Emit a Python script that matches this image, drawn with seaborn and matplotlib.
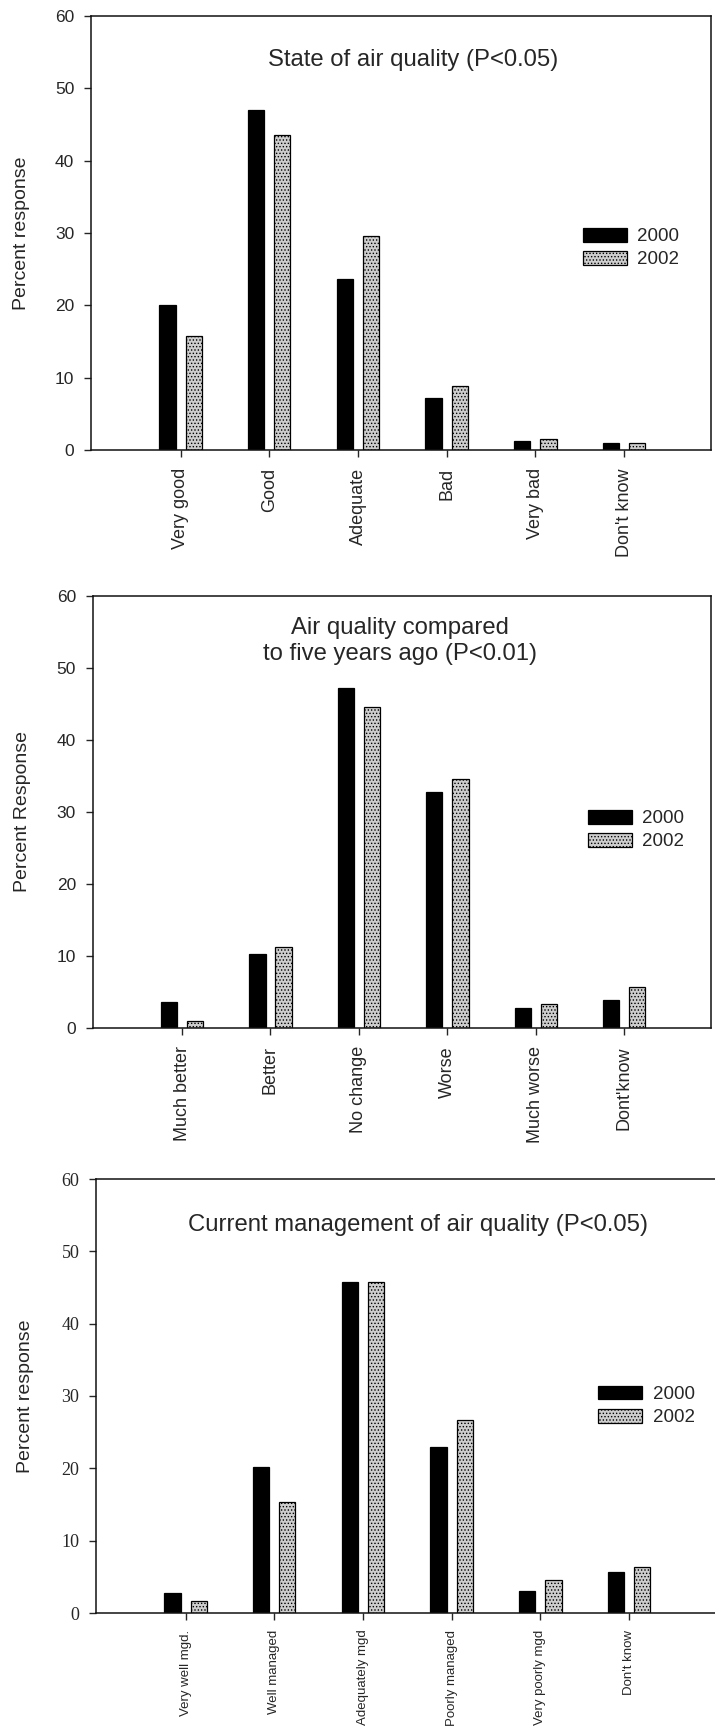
import matplotlib
matplotlib.use("Agg")
import matplotlib.pyplot as plt
from matplotlib.patches import Patch
from matplotlib import font_manager
import pandas as pd
import seaborn as sns

# ---- survey results (percent of respondents) ----
years = ["2000", "2002"]

state_categories = ["Very good", "Good", "Adequate", "Bad", "Very bad", "Don't know"]
state_2000 = [20.0, 47.0, 23.7, 7.2, 1.3, 1.0]
state_2002 = [15.8, 43.5, 29.6, 8.8, 1.5, 0.9]

trend_categories = ["Much better", "Better", "No change", "Worse", "Much worse", "Dont'know"]
trend_2000 = [3.6, 10.3, 47.2, 32.8, 2.8, 3.9]
trend_2002 = [1.0, 11.2, 44.6, 34.6, 3.4, 5.7]

mgmt_categories = ["Very well mgd.", "Well managed", "Adequately mgd",
                   "Poorly managed", "Very poorly mgd", "Don't know"]
mgmt_2000 = [2.8, 20.2, 45.8, 23.0, 3.0, 5.6]
mgmt_2002 = [1.6, 15.3, 45.8, 26.7, 4.6, 6.3]

y_ticks = [0, 10, 20, 30, 40, 50, 60]

titles = ["State of air quality (P<0.05)",
          "Air quality compared\nto five years ago (P<0.01)",
          "Current management of air quality (P<0.05)"]
ylabels = ["Percent response", "Percent Response", "Percent response"]

# ---- style ----
sns.set_style("white")
plt.rcParams["font.family"] = ["Liberation Sans", "DejaVu Sans"]
plt.rcParams["axes.linewidth"] = 1.0
plt.rcParams["hatch.linewidth"] = 0.6


def has_font(name):
    try:
        font_manager.findfont(name, fallback_to_default=False)
        return True
    except Exception:
        return False


NARROW = "Liberation Sans Narrow" if has_font("Liberation Sans Narrow") else "Liberation Sans"
NARROW_SIZE = 11 if NARROW == "Liberation Sans Narrow" else 9.5

BLACK = "#000000"
STIPPLE = "#cdcdcd"
HATCH = "....."
palette = {"2000": BLACK, "2002": STIPPLE}

fig = plt.figure(figsize=(7.15, 17.27), dpi=100)

# axes boxes [left, bottom, width, height] in figure fractions
boxes = [
    [91 / 715, 1 - 450 / 1727, 620 / 715, 434 / 1727],
    [92.7 / 715, 1 - 1028 / 1727, 618.3 / 715, 432 / 1727],
    [96 / 715, 1 - 1613 / 1727, 620 / 715, 434 / 1727],
]
title_pos = [(0.519, 0.899), (0.497, 0.896), (0.519, 0.894)]
legend_pos = [(0.7935, 0.465), (0.801, 0.458), (0.81, 0.477)]
ylabel_x = [-0.098, -0.100, -0.100]

panels = [
    (state_categories, state_2000, state_2002),
    (trend_categories, trend_2000, trend_2002),
    (mgmt_categories, mgmt_2000, mgmt_2002),
]

for i, (cats, v2000, v2002) in enumerate(panels):
    ax = fig.add_axes(boxes[i])
    df = pd.DataFrame({
        "category": cats + cats,
        "year": [years[0]] * len(cats) + [years[1]] * len(cats),
        "percent": v2000 + v2002,
    })
    sns.barplot(data=df, x="category", y="percent", hue="year",
                order=cats, hue_order=years, palette=palette,
                width=0.59, gap=0.38, saturation=1,
                edgecolor="black", linewidth=0.9, legend=False, ax=ax)
    for bar in ax.patches:
        if bar.get_facecolor()[0] > 0.5:
            bar.set_hatch(HATCH)

    ax.set_xlim(-1.01, 5.98)
    ax.set_ylim(0, 60)
    ax.set_yticks(y_ticks)
    for s in ax.spines.values():
        s.set_visible(True)
        s.set_color("#111111")
        s.set_linewidth(1.1)

    serif_ticks = (i == 2)
    ax.tick_params(axis="y", direction="out", length=5, width=1, pad=7,
                   left=True, labelsize=13 if serif_ticks else 12.5)
    ax.tick_params(axis="x", direction="out", length=5, width=1,
                   pad=8 if not serif_ticks else 7, bottom=True,
                   labelsize=NARROW_SIZE if serif_ticks else 13)
    ax.set_xticks(range(len(cats)))
    ax.set_xticklabels(cats, rotation=90, ha="center", va="top")
    if serif_ticks:
        for lab in ax.get_yticklabels():
            lab.set_fontfamily(["Liberation Serif", "DejaVu Serif"])
        for lab in ax.get_xticklabels():
            lab.set_fontfamily([NARROW, "DejaVu Sans"])

    ax.set_xlabel("")
    ax.set_ylabel(ylabels[i], fontsize=14)
    ax.yaxis.set_label_coords(ylabel_x[i], 0.5)

    ax.text(title_pos[i][0], title_pos[i][1], titles[i], transform=ax.transAxes,
            ha="center", va="center", fontsize=17.2, linespacing=1.2)

    handles = [Patch(facecolor=BLACK, edgecolor="black", linewidth=0.9),
               Patch(facecolor=STIPPLE, edgecolor="black", linewidth=0.9, hatch=HATCH)]
    ax.legend(handles, years, loc="center left", bbox_to_anchor=legend_pos[i],
              frameon=False, fontsize=13.5, handlelength=2.35, handleheight=0.75,
              handletextpad=0.55, labelspacing=0.3, borderpad=0, borderaxespad=0)

fig.savefig("out.png", dpi=100)
